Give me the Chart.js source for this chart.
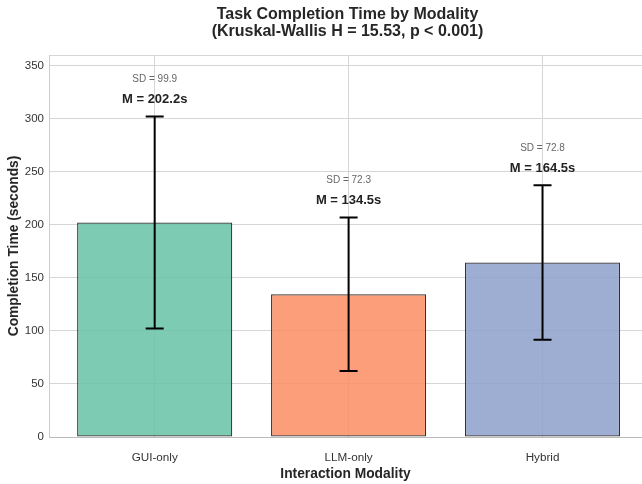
<!DOCTYPE html>
<html>
<head>
<meta charset="utf-8">
<script src="https://cdn.jsdelivr.net/npm/chart.js@4/dist/chart.umd.min.js"></script>
<style>
  html, body { margin: 0; padding: 0; background: #fff; }
  #wrap { width: 642px; height: 484px; }
</style>
</head>
<body>
<div id="wrap"><canvas id="c" width="642" height="484"></canvas></div>
<script>
const modalities = ['GUI-only', 'LLM-only', 'Hybrid'];
const meanTimes = [202.2, 134.5, 164.5];
const sdTimes = [99.9, 72.3, 72.8];
const yTicks = [0, 50, 100, 150, 200, 250, 300, 350];
const titleLines = ['Task Completion Time by Modality', '(Kruskal-Wallis H = 15.53, p < 0.001)'];

const fills = ['rgba(102,194,165,0.85)', 'rgba(252,141,98,0.85)', 'rgba(141,160,203,0.85)'];
const FONT = '"Liberation Sans", Arial, sans-serif';
const Y_MAX = 360;

// Error bars, mean / SD annotations and the centred title
const overlay = {
  id: 'overlay',
  afterDatasetsDraw(chart) {
    const ctx = chart.ctx;
    const x = chart.scales.x, y = chart.scales.y;
    const area = chart.chartArea;
    ctx.save();
    meanTimes.forEach((m, i) => {
      const cx = x.getPixelForValue(i);
      const yTop = y.getPixelForValue(m + sdTimes[i]);
      const yBot = y.getPixelForValue(m - sdTimes[i]);
      ctx.strokeStyle = '#000';
      ctx.lineWidth = 2;
      ctx.beginPath();
      ctx.moveTo(cx, yTop); ctx.lineTo(cx, yBot);
      ctx.moveTo(cx - 9, yTop); ctx.lineTo(cx + 9, yTop);
      ctx.moveTo(cx - 9, yBot); ctx.lineTo(cx + 9, yBot);
      ctx.stroke();

      ctx.textAlign = 'center';
      ctx.textBaseline = 'middle';
      ctx.fillStyle = '#222';
      ctx.font = 'bold 13px ' + FONT;
      ctx.fillText('M = ' + m.toFixed(1) + 's', cx, yTop - 17);
      ctx.fillStyle = '#666';
      ctx.font = '10px ' + FONT;
      ctx.fillText('SD = ' + sdTimes[i].toFixed(1), cx, yTop - 37);
    });
    const tx = (area.left + area.right) / 2 + 2;
    ctx.fillStyle = '#262626';
    ctx.font = 'bold 16px ' + FONT;
    ctx.textAlign = 'center';
    ctx.textBaseline = 'middle';
    ctx.fillText(titleLines[0], tx, 15);
    ctx.fillText(titleLines[1], tx, 32);
    ctx.restore();
  }
};

new Chart(document.getElementById('c'), {
  type: 'bar',
  data: {
    datasets: [{
      data: meanTimes.map((m, i) => ({ x: i, y: m })),
      backgroundColor: fills,
      borderColor: '#333',
      borderWidth: 1.2,
      borderSkipped: false,
      barPercentage: 0.8,
      categoryPercentage: 1.0
    }]
  },
  options: {
    responsive: false,
    animation: false,
    devicePixelRatio: 1,
    layout: { padding: { top: 55, left: 0, right: 0, bottom: 0 } },
    plugins: { legend: { display: false }, tooltip: { enabled: false }, title: { display: false } },
    scales: {
      x: {
        type: 'linear',
        min: -0.545, max: 2.513,
        offset: false,
        afterBuildTicks(s) { s.ticks = modalities.map((_, i) => ({ value: i })); },
        grid: { color: '#d6d6d6', lineWidth: 1, offset: false, drawTicks: false },
        border: { color: '#bbbbbb', width: 1 },
        ticks: { color: '#333', font: { family: FONT, size: 11.7 }, padding: 14,
                 callback: v => modalities[v] },
        title: { display: true, text: 'Interaction Modality', color: '#262626',
                 font: { family: FONT, size: 13.8, weight: 'bold' }, padding: { top: 0, bottom: 2 } },
        afterFit(s) { s.height = 47; }
      },
      y: {
        min: 0, max: Y_MAX,
        afterBuildTicks(s) { s.ticks = yTicks.map(v => ({ value: v })).concat([{ value: Y_MAX }]); },
        grid: { color: '#d6d6d6', lineWidth: 1, drawTicks: false },
        border: { color: '#cccccc', width: 1 },
        ticks: { color: '#333', font: { family: FONT, size: 11.5 }, padding: 5,
                 callback: v => (yTicks.includes(v) ? String(v) : '') },
        title: { display: true, text: 'Completion Time (seconds)', color: '#262626',
                 font: { family: FONT, size: 13.8, weight: 'bold' }, padding: { top: 6, bottom: 0 } },
        afterFit(s) { s.width = 49; }
      }
    }
  },
  plugins: [overlay]
});
</script>
</body>
</html>
